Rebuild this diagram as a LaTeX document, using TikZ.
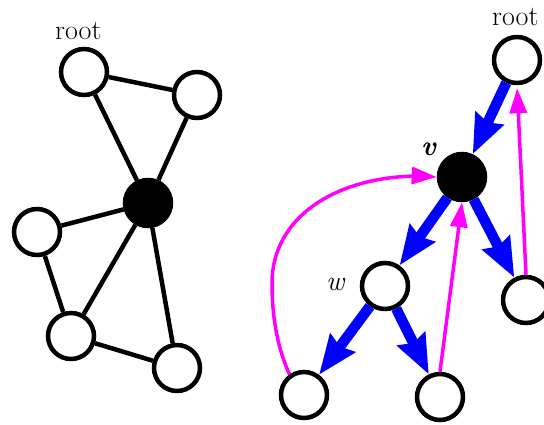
\documentclass[tikz,border=0pt]{standalone}
\usetikzlibrary{arrows.meta}
\definecolor{mag}{RGB}{255,0,255}
\definecolor{blu}{RGB}{0,0,255}
\begin{document}
\begin{tikzpicture}[x=1pt,y=-1pt,
  vtx/.style={circle,draw=black,line width=4.5pt,fill=white,minimum size=46pt,inner sep=0pt},
  bvtx/.style={vtx,fill=black},
  edge/.style={line width=4.5pt,black},
  tree/.style={line width=10.5pt,blu,-{Stealth[length=39pt,width=30pt,inset=4pt]}},
  back/.style={line width=3.5pt,mag,-{Triangle[length=25pt,width=17pt]}},
  lbl/.style={inner sep=0pt,font=\fontsize{28}{30}\selectfont}]
\useasboundingbox (0,0) rectangle (544,424);
% left graph
\node[vtx] (A) at (84,72) {};
\node[vtx] (B) at (197,95) {};
\node[bvtx] (C) at (148,203) {};
\node[vtx] (D) at (37,232) {};
\node[vtx] (E) at (71,336) {};
\node[vtx] (F) at (177,368) {};
\node[lbl,anchor=base west] (rl) at (55,39) {root};
\draw[edge] (A) -- (B);
\draw[edge] (A) -- (C);
\draw[edge] (B) -- (C);
\draw[edge] (C) -- (D);
\draw[edge] (C) -- (E);
\draw[edge] (C) -- (F);
\draw[edge] (D) -- (E);
\draw[edge] (E) -- (F);
% right graph
\node[vtx] (R) at (517,60) {};
\node[bvtx] (v) at (462,177) {};
\node[vtx] (w) at (385,286) {};
\node[vtx] (X) at (526,300) {};
\node[vtx] (Y) at (304,395) {};
\node[vtx] (Z) at (440,397) {};
\node[lbl,anchor=base west] (rr) at (492,25) {root};
\node[lbl,anchor=base west] (vlab) at (421,155) {\textbf{\textit{v}}};
\node[lbl,anchor=base west] (wlab) at (326,290) {\textit{w}};
\draw[tree] (R) -- (v);
\draw[tree] (v) -- (w);
\draw[tree] (v) -- (X);
\draw[tree] (w) -- (Y);
\draw[tree] (w) -- (Z);
\draw[back,shorten >=3pt] (X.north) -- (R.south);
\draw[back] (Z.north) -- (v.south);
\draw[back] (Y.125) .. controls (276,345) and (272,312) .. (272,283)
  .. controls (272,218) and (335,176) .. (420,176) -- (v.west);
\end{tikzpicture}
\end{document}
